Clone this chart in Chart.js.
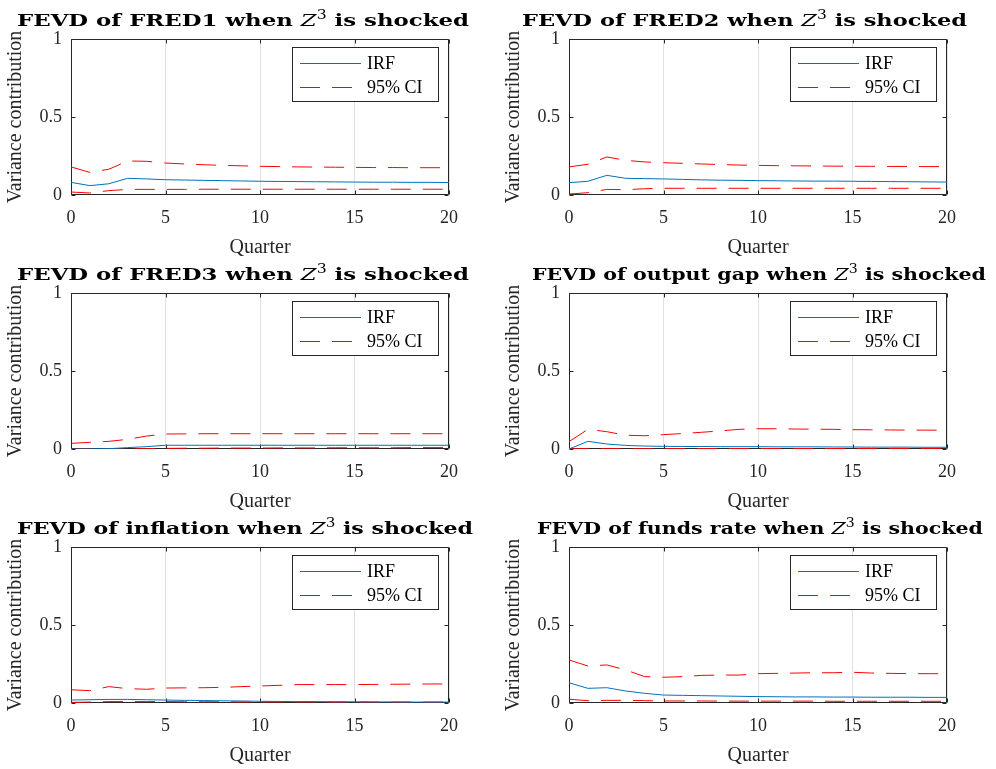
<!DOCTYPE html>
<html>
<head>
<meta charset="utf-8">
<title>FEVD when Z3 is shocked</title>
<script src="https://cdn.jsdelivr.net/npm/chart.js@4/dist/chart.umd.min.js"></script>
<style>
  html, body { margin: 0; padding: 0; background: #ffffff; }
  body { width: 996px; height: 769px; position: relative; overflow: hidden; }
  canvas { position: absolute; display: block; }
</style>
</head>
<body>
<canvas id="p0" width="498" height="257" style="left:0px;top:0px"></canvas>
<canvas id="p1" width="498" height="257" style="left:498px;top:0px"></canvas>
<canvas id="p2" width="498" height="257" style="left:0px;top:254px"></canvas>
<canvas id="p3" width="498" height="257" style="left:498px;top:254px"></canvas>
<canvas id="p4" width="498" height="257" style="left:0px;top:508px"></canvas>
<canvas id="p5" width="498" height="257" style="left:498px;top:508px"></canvas>
<script>
// Horizon (quarters after the shock) and axis ticks
const quarters = [0, 1, 2, 3, 4, 5, 6, 7, 8, 9, 10, 11, 12, 13, 14, 15, 16, 17, 18, 19, 20];
const xTickValues = [0, 5, 10, 15, 20];
const xTickLabels = ['0', '5', '10', '15', '20'];
const yTickValues = [0, 0.5, 1];
const yTickLabels = ['0', '0.5', '1'];
const variableNames = ['FRED1', 'FRED2', 'FRED3', 'output gap', 'inflation', 'funds rate'];
const legendLabels = ['IRF', '95% CI'];
const xAxisLabel = 'Quarter';
const yAxisLabel = 'Variance contribution';

// FEVD point estimates and 95% bands, one set per variable
const fred1Irf   = [0.081, 0.060, 0.072, 0.107, 0.103, 0.098, 0.096, 0.094, 0.092, 0.090, 0.088, 0.087, 0.086, 0.085, 0.084, 0.083, 0.082, 0.082, 0.081, 0.081, 0.080];
const fred1Upper = [0.180, 0.145, 0.165, 0.218, 0.216, 0.205, 0.199, 0.194, 0.190, 0.187, 0.184, 0.182, 0.180, 0.179, 0.178, 0.177, 0.176, 0.176, 0.175, 0.175, 0.175];
const fred1Lower = [0.019, 0.013, 0.028, 0.036, 0.036, 0.036, 0.036, 0.037, 0.037, 0.037, 0.037, 0.037, 0.037, 0.037, 0.037, 0.037, 0.037, 0.037, 0.037, 0.037, 0.037];

const fred2Irf   = [0.079, 0.088, 0.126, 0.107, 0.105, 0.103, 0.100, 0.097, 0.095, 0.094, 0.092, 0.091, 0.090, 0.089, 0.089, 0.088, 0.087, 0.086, 0.085, 0.084, 0.083];
const fred2Upper = [0.180, 0.197, 0.244, 0.222, 0.212, 0.207, 0.203, 0.199, 0.195, 0.192, 0.190, 0.188, 0.187, 0.186, 0.185, 0.184, 0.184, 0.183, 0.183, 0.182, 0.182];
const fred2Lower = [0.006, 0.015, 0.036, 0.034, 0.040, 0.043, 0.043, 0.043, 0.043, 0.043, 0.043, 0.043, 0.043, 0.043, 0.043, 0.043, 0.043, 0.043, 0.043, 0.043, 0.043];

const fred3Irf   = [0.000, 0.000, 0.002, 0.009, 0.015, 0.024, 0.024, 0.024, 0.024, 0.024, 0.024, 0.024, 0.024, 0.024, 0.024, 0.024, 0.024, 0.024, 0.024, 0.024, 0.024];
const fred3Upper = [0.036, 0.043, 0.049, 0.062, 0.083, 0.096, 0.097, 0.098, 0.098, 0.098, 0.098, 0.098, 0.098, 0.098, 0.098, 0.098, 0.098, 0.098, 0.098, 0.098, 0.098];
const fred3Lower = [0.000, 0.000, 0.000, 0.001, 0.002, 0.004, 0.005, 0.005, 0.006, 0.006, 0.006, 0.007, 0.007, 0.007, 0.008, 0.008, 0.008, 0.008, 0.009, 0.009, 0.009];

const gapIrf     = [0.000, 0.049, 0.032, 0.023, 0.019, 0.017, 0.016, 0.016, 0.015, 0.015, 0.015, 0.014, 0.014, 0.014, 0.013, 0.013, 0.012, 0.012, 0.012, 0.011, 0.011];
const gapUpper   = [0.047, 0.126, 0.111, 0.088, 0.085, 0.092, 0.099, 0.107, 0.116, 0.126, 0.130, 0.130, 0.128, 0.127, 0.126, 0.124, 0.123, 0.122, 0.121, 0.121, 0.120];
const gapLower   = [0.002, 0.002, 0.002, 0.002, 0.002, 0.002, 0.003, 0.003, 0.003, 0.003, 0.003, 0.003, 0.003, 0.003, 0.003, 0.004, 0.004, 0.004, 0.004, 0.004, 0.004];

const inflIrf    = [0.019, 0.021, 0.023, 0.023, 0.021, 0.019, 0.017, 0.016, 0.014, 0.013, 0.011, 0.010, 0.009, 0.009, 0.008, 0.008, 0.007, 0.007, 0.006, 0.006, 0.006];
const inflUpper  = [0.085, 0.079, 0.105, 0.092, 0.088, 0.096, 0.097, 0.098, 0.100, 0.105, 0.109, 0.113, 0.118, 0.118, 0.118, 0.118, 0.119, 0.120, 0.121, 0.122, 0.122];
const inflLower  = [0.004, 0.006, 0.009, 0.009, 0.009, 0.009, 0.008, 0.008, 0.008, 0.007, 0.007, 0.007, 0.007, 0.007, 0.006, 0.006, 0.006, 0.006, 0.006, 0.006, 0.006];

const fundsIrf   = [0.130, 0.094, 0.098, 0.077, 0.062, 0.051, 0.049, 0.047, 0.045, 0.043, 0.041, 0.040, 0.039, 0.039, 0.038, 0.038, 0.037, 0.037, 0.037, 0.036, 0.036];
const fundsUpper = [0.276, 0.237, 0.244, 0.212, 0.169, 0.165, 0.169, 0.177, 0.179, 0.179, 0.188, 0.190, 0.192, 0.194, 0.194, 0.197, 0.192, 0.190, 0.188, 0.188, 0.188];
const fundsLower = [0.024, 0.015, 0.017, 0.017, 0.015, 0.013, 0.013, 0.013, 0.012, 0.012, 0.012, 0.012, 0.012, 0.012, 0.011, 0.011, 0.011, 0.011, 0.011, 0.011, 0.011];

const panels = [
  { name: variableNames[0], irf: fred1Irf, upper: fred1Upper, lower: fred1Lower },
  { name: variableNames[1], irf: fred2Irf, upper: fred2Upper, lower: fred2Lower },
  { name: variableNames[2], irf: fred3Irf, upper: fred3Upper, lower: fred3Lower },
  { name: variableNames[3], irf: gapIrf,   upper: gapUpper,   lower: gapLower },
  { name: variableNames[4], irf: inflIrf,  upper: inflUpper,  lower: inflLower },
  { name: variableNames[5], irf: fundsIrf, upper: fundsUpper, lower: fundsLower }
];

// Title placement per panel: left edge and set width, in canvas pixels
const titleLefts  = [17, 24, 17, 34, 17, 39];
const titleWidths = [452, 445, 452, 454, 456, 446];

const SERIF = '"Liberation Serif", "Times New Roman", serif';
const TITLE_SERIF = '"DejaVu Serif", serif';
const AXIS_COLOR = '#262626';
const GRID_COLOR = '#e1e1e1';
const IRF_COLOR = '#0072BD';
const CI_COLOR = '#FF0000';
const CI_DASH = [20, 12];

// Bold, wide-set title with an italic Z and a superscript 3
const mathTitle = {
  id: 'mathTitle',
  afterDraw(chart, args, opts) {
    const ctx = chart.ctx;
    const a = chart.chartArea;
    const parts = [
      { text: 'FEVD of ' + opts.name + ' when ', font: 'bold 17.5px ' + TITLE_SERIF, dy: 0 },
      { text: 'Z', font: 'italic 17.5px ' + TITLE_SERIF, dy: 0 },
      { text: '3', font: '12px ' + TITLE_SERIF, dy: -7 },
      { text: ' is shocked', font: 'bold 17.5px ' + TITLE_SERIF, dy: 0 }
    ];
    ctx.save();
    ctx.fillStyle = '#000000';
    ctx.textBaseline = 'alphabetic';
    ctx.textAlign = 'left';
    let total = 0;
    parts.forEach(p => { ctx.font = p.font; p.w = ctx.measureText(p.text).width; total += p.w; });
    const sx = opts.width / total;
    ctx.translate(opts.left, a.top - 13);
    ctx.scale(sx, 1);
    let x = 0;
    parts.forEach(p => { ctx.font = p.font; ctx.fillText(p.text, x, p.dy); x += p.w; });
    ctx.restore();
  }
};

// Axes box with inward tick marks, drawn beneath the data
const axesBox = {
  id: 'axesBox',
  beforeDatasetsDraw(chart) {
    const { ctx, chartArea: a, scales } = chart;
    const L = a.left + 0.5, R = a.right - 0.5, T = a.top + 0.5, B = a.bottom - 0.5;
    ctx.save();
    ctx.strokeStyle = AXIS_COLOR;
    ctx.lineWidth = 1;
    ctx.beginPath();
    ctx.moveTo(L, T); ctx.lineTo(R, T); ctx.lineTo(R, B); ctx.lineTo(L, B); ctx.closePath();
    xTickValues.forEach(v => {
      const px = Math.round(scales.x.getPixelForValue(v)) + 0.5;
      ctx.moveTo(px, B); ctx.lineTo(px, B - 4);
      ctx.moveTo(px, T); ctx.lineTo(px, T + 4);
    });
    yTickValues.forEach(v => {
      const py = Math.round(scales.y.getPixelForValue(v)) + 0.5;
      ctx.moveTo(L, py); ctx.lineTo(L + 4, py);
      ctx.moveTo(R, py); ctx.lineTo(R - 4, py);
    });
    ctx.stroke();
    ctx.restore();
  }
};

// Boxed legend in the upper-right corner of the axes
const boxLegend = {
  id: 'boxLegend',
  afterDatasetsDraw(chart) {
    const { ctx, chartArea: a } = chart;
    const w = 146, h = 54;
    const bx = Math.round(a.right - 11 - w), by = Math.round(a.top + 8);
    ctx.save();
    ctx.fillStyle = '#ffffff';
    ctx.fillRect(bx, by, w, h);
    ctx.strokeStyle = AXIS_COLOR;
    ctx.lineWidth = 1;
    ctx.strokeRect(bx + 0.5, by + 0.5, w, h);
    const shown = [chart.data.datasets[0], chart.data.datasets[1]];
    shown.forEach((ds, i) => {
      const yy = by + 16 + i * 24;
      ctx.strokeStyle = ds.borderColor;
      ctx.lineWidth = ds.borderWidth;
      ctx.setLineDash(ds.borderDash || []);
      ctx.beginPath();
      ctx.moveTo(bx + 8, yy + 0.5);
      ctx.lineTo(bx + 69, yy + 0.5);
      ctx.stroke();
      ctx.setLineDash([]);
      ctx.fillStyle = '#000000';
      ctx.font = '18px ' + SERIF;
      ctx.textBaseline = 'middle';
      ctx.textAlign = 'left';
      ctx.fillText(ds.label, bx + 75, yy + 1);
    });
    ctx.restore();
  }
};

function tickList(values) {
  return scale => { scale.ticks = values.map(v => ({ value: v })); };
}
function tickText(values, labels) {
  return v => labels[values.indexOf(v)];
}

panels.forEach((p, i) => {
  new Chart(document.getElementById('p' + i), {
    type: 'line',
    data: {
      labels: quarters,
      datasets: [
        { label: legendLabels[0], data: p.irf, borderColor: IRF_COLOR, borderWidth: 1, pointRadius: 0, tension: 0 },
        { label: legendLabels[1], data: p.upper, borderColor: CI_COLOR, borderWidth: 1, borderDash: CI_DASH, pointRadius: 0, tension: 0 },
        { label: legendLabels[1], data: p.lower, borderColor: CI_COLOR, borderWidth: 1, borderDash: CI_DASH, pointRadius: 0, tension: 0 }
      ]
    },
    options: {
      responsive: false,
      animation: false,
      devicePixelRatio: 1,
      events: [],
      layout: { padding: { left: 0, right: 49, top: 39, bottom: 0 } },
      plugins: {
        legend: { display: false },
        tooltip: { enabled: false },
        mathTitle: { name: p.name, left: titleLefts[i], width: titleWidths[i] }
      },
      scales: {
        x: {
          type: 'linear', min: 0, max: 20,
          afterBuildTicks: tickList(xTickValues),
          afterFit: s => { s.height = 62; },
          grid: { color: GRID_COLOR, lineWidth: 1, drawTicks: false },
          border: { display: false },
          ticks: { font: { family: SERIF, size: 18 }, color: AXIS_COLOR, padding: 12, maxRotation: 0, autoSkip: false,
                   callback: tickText(xTickValues, xTickLabels) },
          title: { display: true, text: xAxisLabel, font: { family: SERIF, size: 20 }, color: AXIS_COLOR, padding: { top: 0, bottom: -3 } }
        },
        y: {
          type: 'linear', min: 0, max: 1,
          afterBuildTicks: tickList(yTickValues),
          afterFit: s => { s.width = 71; },
          grid: { display: false, drawTicks: false },
          border: { display: false },
          ticks: { font: { family: SERIF, size: 18 }, color: AXIS_COLOR, padding: 9, autoSkip: false,
                   callback: tickText(yTickValues, yTickLabels) },
          title: { display: true, text: yAxisLabel, font: { family: SERIF, size: 20 }, color: AXIS_COLOR, padding: { top: 4, bottom: 0 } }
        }
      }
    },
    plugins: [axesBox, boxLegend, mathTitle]
  });
});
</script>
</body>
</html>
